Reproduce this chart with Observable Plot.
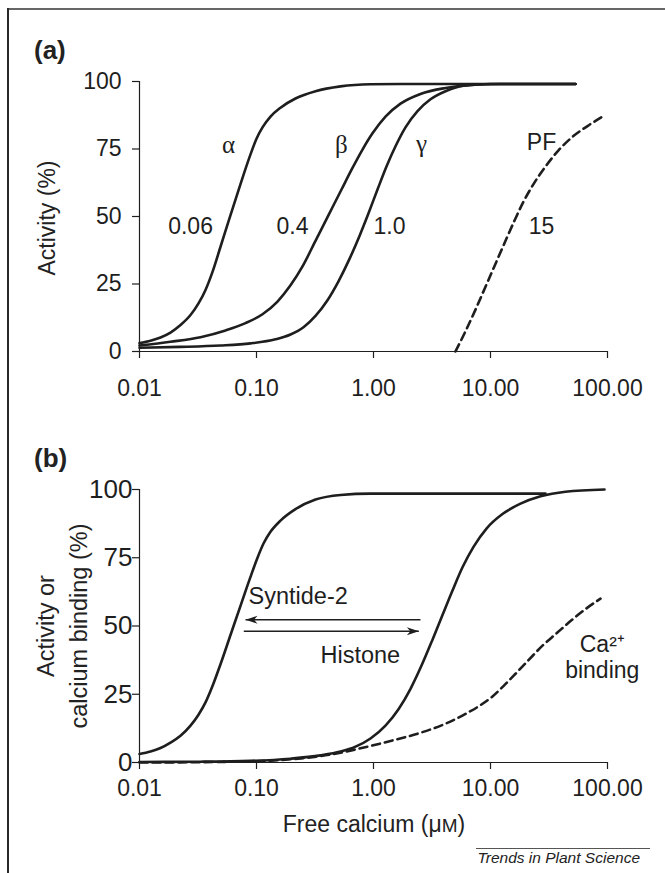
<!DOCTYPE html>
<html><head><meta charset="utf-8">
<script src="https://cdn.jsdelivr.net/npm/d3@7"></script>
<script src="https://cdn.jsdelivr.net/npm/@observablehq/plot@0.6"></script>
<style>
body{margin:0;background:#fff;}
#page{position:relative;width:665px;height:873px;overflow:hidden;background:#fff;font-family:"Liberation Sans",Arial,Helvetica,sans-serif;color:#222;}
.abs{position:absolute;white-space:nowrap;}
</style></head><body>
<div id="page">
 <div id="chartA" class="abs" style="left:0;top:0"></div>
 <div id="chartB" class="abs" style="left:0;top:410px"></div>
 <div class="abs" style="left:34px;top:37px;font-size:26px;line-height:26px;font-weight:bold">(a)</div>
 <div class="abs" style="left:34px;top:445px;font-size:26px;line-height:26px;font-weight:bold">(b)</div>
 <div class="abs" style="left:46.5px;top:217.5px;font-size:23px;line-height:23px;transform:translate(-50%,-50%) rotate(-90deg)">Activity (%)</div>
 <div class="abs" style="left:63px;top:626px;font-size:23.5px;line-height:33px;text-align:center;transform:translate(-50%,-50%) rotate(-90deg)">Activity or<br>calcium binding (%)</div>
 <div class="abs" style="left:374px;top:825px;font-size:23px;line-height:23px;transform:translate(-50%,-50%)">Free calcium (μ<span style="font-size:19px">M</span>)</div>
 <div class="abs" style="left:476px;top:848px;width:174px;height:1px;background:#555"></div>
 <div class="abs" style="right:25px;top:850px;font-size:15.5px;line-height:16px;font-style:italic">Trends in Plant Science</div>
 <div class="abs" style="left:7px;top:8px;width:658px;height:2px;background:#666"></div>
 <div class="abs" style="left:7px;top:8px;width:1.6px;height:865px;background:#2a2a2a"></div>
</div>
<script>
// ---- Data (free Ca2+ in µM, activity %) ----
const xTicks = [0.01, 0.1, 1, 10, 100];
const yTicks = [0, 25, 50, 75, 100];

// Panel (a)
const alpha = [[0.01,3.1],[0.01242,4.0],[0.01512,5.2],[0.01841,7.0],[0.02241,9.8],[0.02729,13.5],[0.03194,17.8],[0.03666,22.8],[0.04207,29.5],[0.04924,38.8],[0.05995,50.5],[0.07298,62],[0.08887,73],[0.1,78.8],[0.1125,83],[0.1317,87],[0.1604,90.3],[0.2154,93.7],[0.3194,96.4],[0.5224,98.2],[0.9428,99],[1.702,99.1],[53.3,99.1]];
const beta = [[0.01,2.2],[0.01841,3.6],[0.03322,5.3],[0.05433,7.8],[0.08054,10.5],[0.1125,13.8],[0.1512,18.5],[0.1953,24.5],[0.2473,31.5],[0.3194,41],[0.4125,50.5],[0.5328,60],[0.6614,68],[0.8054,74.8],[0.9806,80.8],[1.266,87],[1.702,91.8],[2.522,95.4],[4.125,97.6],[6.746,98.7],[12.18,99.1],[53.3,99.1]];
const gamma = [[0.01,1.4],[0.02241,1.7],[0.04924,2.2],[0.08887,3.0],[0.1454,4.5],[0.1953,6.3],[0.2522,9],[0.3194,13.2],[0.4044,19],[0.5021,26],[0.6237,34.3],[0.7592,42.8],[0.9065,51.2],[1.082,60],[1.291,68.5],[1.542,76],[1.877,83],[2.378,89],[3.070,93.4],[4.125,96.4],[5.876,98.4],[10,99.1],[53.3,99.1]];
const pf = [[5.021,0],[6.114,7.5],[7.445,15.5],[9.065,24],[11.04,32.5],[13.44,41],[16.04,48.5],[19.15,55.5],[23.31,62],[29.52,68.5],[38.13,74.5],[50.21,79.5],[67.46,83.5],[90.65,87]];

// Panel (b)
const syntide = [[0.01,3.1],[0.01242,4.0],[0.01512,5.3],[0.01841,7.3],[0.02241,9.8],[0.02729,13.5],[0.03194,17.5],[0.03666,22],[0.04207,28],[0.04924,36],[0.05995,46.7],[0.07298,57.4],[0.08887,68],[0.102,75],[0.1148,80.2],[0.1317,84.5],[0.1604,88.6],[0.2154,92.8],[0.3194,96.3],[0.5224,98],[0.9428,98.5],[29.52,98.5]];
const histone = [[0.01,0.2],[0.03322,0.3],[0.08887,0.6],[0.1953,1.4],[0.3524,2.6],[0.5224,4.0],[0.7018,5.8],[0.9428,8.8],[1.266,13.5],[1.636,19.5],[2.072,27],[2.573,35.5],[3.194,45],[3.888,54],[4.734,63],[5.764,71.5],[7.156,79],[9.245,85.7],[12.66,91],[18.05,94.8],[26.76,97.5],[43.75,99.2],[94.28,100]];
const caBinding = [[0.01,0],[0.04924,0.2],[0.1317,0.7],[0.2378,1.5],[0.429,2.9],[0.7743,5.2],[1.398,7.9],[2.522,10.9],[4.125,14.2],[6.114,17.8],[8.214,21],[10.4,24.2],[12.91,28],[16.36,32.5],[21.13,37.5],[27.82,42.8],[36.66,47.3],[48.29,51.8],[64.86,56.2],[87.14,60]];

// Annotations (data units)
const labelsA = [{t:"0.06",x:0.0273,y:46.3},{t:"0.4",x:0.203,y:46.3},{t:"1.0",x:1.37,y:46.3},{t:"PF",x:27.3,y:77.4},{t:"15",x:27.3,y:46.3}];
const greekA = [{t:"α",x:0.0577,y:76.5},{t:"β",x:0.532,y:76.5},{t:"γ",x:2.57,y:77}];
const labelsB = [{t:"Syntide-2",x:0.0855,y:60.8},{t:"Histone",x:0.352,y:39.2}];
const caLabel = [{t:"Ca²⁺\nbinding",x:90.2,y:38.6}];
const arrowsB = [{x1:2.52,x2:0.0806,y:52.3,dir:180},{x1:0.0779,x2:2.44,y:48.1,dir:0}];

// ---- Rendering ----
const INK = "#1e1e1e";
const FONT = "'Liberation Sans', Arial, Helvetica, sans-serif";
const SERIF = "'Liberation Serif', 'Times New Roman', serif";
const pts = a => a.map(([x, y]) => ({x, y}));

const stealth = {
  draw(ctx, size) {
    const s = Math.sqrt(size / Math.PI);
    ctx.moveTo(0, 0);
    ctx.lineTo(-2.4 * s, -0.8 * s);
    ctx.lineTo(-1.7 * s, 0);
    ctx.lineTo(-2.4 * s, 0.8 * s);
    ctx.closePath();
  }
};

function base(height, marginTop, marginBottom, yPad, yFont, xPad, marks) {
  return Plot.plot({
    width: 665, height, marginLeft: 139, marginRight: 58, marginTop, marginBottom,
    x: {type: "log", domain: [0.01, 100]},
    y: {domain: [0, 100]},
    style: {background: "transparent", fontFamily: FONT, fontSize: "23px", color: INK, overflow: "visible"},
    marks: [
      Plot.axisY({ticks: yTicks, tickSize: 7, tickPadding: yPad, fontSize: yFont, label: null, strokeWidth: 1.2}),
      Plot.axisX({ticks: xTicks, tickFormat: d => d.toFixed(2), tickSize: 7, tickPadding: xPad, fontSize: 23, label: null, strokeWidth: 1.2}),
      Plot.ruleX([0.01], {stroke: INK, strokeWidth: 1.2}),
      Plot.ruleY([0], {stroke: INK, strokeWidth: 1.2}),
      ...marks
    ]
  });
}

const lineOpts = {x: "x", y: "y", curve: "monotone-x", stroke: INK, strokeWidth: 2.6};
const dashOpts = {...lineOpts, strokeDasharray: "8,5"};

const chartA = base(410, 81, 59, 11, 23, 21, [
  Plot.line(pts(alpha), lineOpts),
  Plot.line(pts(beta), lineOpts),
  Plot.line(pts(gamma), lineOpts),
  Plot.line(pts(pf), dashOpts),
  Plot.text(labelsA, {x: "x", y: "y", text: "t", fontSize: 23, fill: INK}),
  Plot.text(greekA, {x: "x", y: "y", text: "t", fontSize: 25, fontFamily: SERIF, fill: INK})
]);
document.getElementById("chartA").append(chartA);

const chartB = base(463, 79, 111, 0, 26, 10, [
  Plot.line(pts(syntide), lineOpts),
  Plot.line(pts(histone), lineOpts),
  Plot.line(pts(caBinding), dashOpts),
  Plot.link(arrowsB, {x1: "x1", x2: "x2", y1: "y", y2: "y", stroke: INK, strokeWidth: 1.4}),
  Plot.dot(arrowsB, {x: "x2", y: "y", symbol: stealth, r: 5, fill: INK, stroke: null, rotate: "dir"}),
  Plot.text(labelsB, {x: "x", y: "y", text: "t", textAnchor: "start", fontSize: 23.5, fill: INK}),
  Plot.text(caLabel, {x: "x", y: "y", text: "t", fontSize: 23, lineHeight: 1.13, fill: INK})
]);
document.getElementById("chartB").append(chartB);
</script>
</body></html>
